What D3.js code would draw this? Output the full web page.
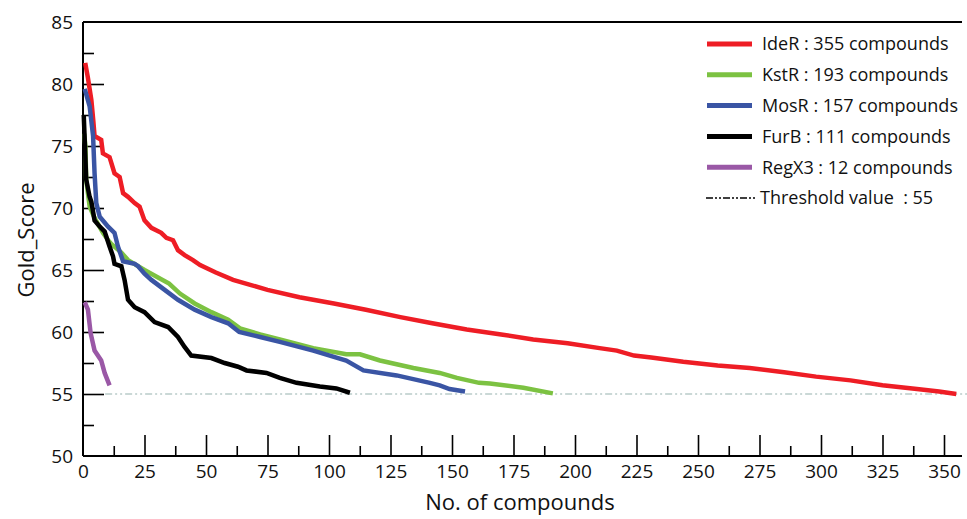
<!DOCTYPE html>
<html>
<head>
<meta charset="utf-8">
<script src="https://cdn.jsdelivr.net/npm/d3@7"></script>
<style>
  body { margin: 0; background: #fff; }
  svg { display: block; font-family: "Open Sans", sans-serif; }
</style>
</head>
<body>
<svg id="chart" width="967" height="519"></svg>
<script>
// ---- Data ----
const ideR_rank  = [0.9,2,3.4,4.2,4.7,7.4,8.1,10.8,12.8,14.9,16.3,18.3,21,23,25,27.8,31.8,33.9,36.6,38.6,41.3,44.7,47.6,54,61,68,75,88,102,115,129,142,156,170,183,197,210,217,224,231,244,258,271,285,298,312,325,339,348,355];
const ideR_score = [81.7,80.5,78.7,77,75.8,75.5,74.4,74.1,72.8,72.5,71.2,70.9,70.4,70.1,69.0,68.4,68.0,67.6,67.4,66.6,66.2,65.8,65.4,64.8,64.2,63.8,63.4,62.8,62.3,61.8,61.2,60.7,60.2,59.8,59.4,59.1,58.7,58.5,58.1,57.95,57.6,57.3,57.1,56.75,56.4,56.1,55.7,55.4,55.2,55.0];

const kstR_rank  = [0.5,1,1.3,2.7,4.7,8.1,10.2,11.5,15.6,18.3,25,30.5,35,39.4,45.4,52.2,59,63.8,72,80,93.6,107,112.6,120.7,134.3,145,152,161,165.4,179,191];
const kstR_score = [76,74.9,72.3,70.1,69.2,68.0,67.4,67.1,66.4,65.8,65.0,64.4,63.9,63.1,62.3,61.6,61.0,60.3,59.8,59.4,58.7,58.2,58.2,57.7,57.1,56.7,56.3,55.9,55.85,55.5,55.05];

const mosR_rank  = [0.7,2.7,4.1,4.7,5.4,6.8,10.2,12.8,14.2,16.3,21,22.4,25,27.8,33.2,38.6,45.4,52.2,59,63.5,72,80,93.6,107,114,127.5,141,145,149,155.3];
const mosR_score = [79.6,78.2,75.8,72.8,70.4,69.3,68.5,68.0,66.9,65.7,65.5,65.3,64.7,64.2,63.4,62.6,61.8,61.2,60.7,60.0,59.6,59.2,58.5,57.7,56.9,56.5,55.9,55.7,55.4,55.2];

const furB_rank  = [0.3,0.8,1.3,2.7,3.4,4.7,6.8,8.8,10.8,12.2,12.8,15.6,16.9,18.3,21,25,29.1,34.6,38.6,41.3,44,52.2,57.6,63,66.5,74.6,80,86.8,96.3,103,108.5];
const furB_score = [77.5,75,72.3,70.9,70.5,69.0,68.5,68.1,66.9,66.1,65.5,65.3,64.2,62.6,62.0,61.6,60.8,60.4,59.6,58.8,58.1,57.9,57.5,57.2,56.9,56.7,56.3,55.9,55.6,55.45,55.1];

const regX3_rank  = [0.7,2,3.1,4.7,7.4,8.8,10.8];
const regX3_score = [62.4,61.8,59.9,58.5,57.7,56.7,55.7];

const seriesNames  = ["IdeR","KstR","MosR","FurB","RegX3"];
const seriesCounts = [355,193,157,111,12];
const seriesColors = ["#ee1d25","#7cc242","#3a55a4","#000000","#9a58a6"];
const thresholdValue = 55;

const xTickValues = [0,25,50,75,100,125,150,175,200,225,250,275,300,325,350];
const yTickValues = [50,55,60,65,70,75,80,85];

// ---- Build series ----
const ranks  = [ideR_rank, kstR_rank, mosR_rank, furB_rank, regX3_rank];
const scores = [ideR_score, kstR_score, mosR_score, furB_score, regX3_score];
const series = seriesNames.map((n, i) => ({
  name: n, count: seriesCounts[i], color: seriesColors[i],
  points: ranks[i].map((r, j) => ({x: r, y: scores[i][j]}))
}));

// ---- Layout ----
const svg = d3.select("#chart");
const x = d3.scaleLinear().domain([0, 350]).range([83, 944]);
const y = d3.scaleLinear().domain([50, 85]).range([456, 22]);
const rightEdge = 962;

// minor ticks
const xMinor = d3.range(12.5, 350, 25);
const yMinor = d3.range(52.5, 85, 5);

const gx = svg.append("g").attr("transform", "translate(0,456)");
gx.call(d3.axisBottom(x).tickValues(xTickValues).tickSizeInner(-21).tickSizeOuter(0).tickPadding(9).tickFormat(d3.format("d")));
gx.select(".domain").remove();
gx.selectAll(".tick line").attr("stroke", "#000").attr("stroke-width", 1.6);
gx.selectAll(".tick text").attr("font-size", 19).attr("fill", "#111").attr("font-family", "Open Sans, sans-serif");
gx.selectAll(".tick").filter(d => d === 0).select("line").remove();

const gxm = svg.append("g").attr("transform", "translate(0,456)");
gxm.call(d3.axisBottom(x).tickValues(xMinor).tickSizeInner(-10).tickSizeOuter(0).tickFormat(""));
gxm.select(".domain").remove();
gxm.selectAll(".tick line").attr("stroke", "#000").attr("stroke-width", 1.6);

const gy = svg.append("g").attr("transform", "translate(83,0)");
gy.call(d3.axisLeft(y).tickValues(yTickValues).tickSizeInner(-21).tickSizeOuter(0).tickPadding(10).tickFormat(d3.format("d")));
gy.select(".domain").remove();
gy.selectAll(".tick line").attr("stroke", "#000").attr("stroke-width", 1.6);
gy.selectAll(".tick text").attr("font-size", 19).attr("fill", "#111").attr("font-family", "Open Sans, sans-serif");
gy.selectAll(".tick").filter(d => d === 85 || d === 50).select("line").remove();

const gym = svg.append("g").attr("transform", "translate(83,0)");
gym.call(d3.axisLeft(y).tickValues(yMinor).tickSizeInner(-11).tickSizeOuter(0).tickFormat(""));
gym.select(".domain").remove();
gym.selectAll(".tick line").attr("stroke", "#000").attr("stroke-width", 1.6);

// frame lines
svg.append("line").attr("x1", x(0)).attr("x2", rightEdge).attr("y1", y(85)).attr("y2", y(85))
  .attr("stroke", "#000").attr("stroke-width", 2);
svg.append("line").attr("x1", x(0)).attr("x2", rightEdge).attr("y1", y(50)).attr("y2", y(50))
  .attr("stroke", "#000").attr("stroke-width", 2);
svg.append("line").attr("x1", x(0)).attr("x2", x(0)).attr("y1", y(85)).attr("y2", y(50))
  .attr("stroke", "#000").attr("stroke-width", 2);

// threshold
svg.append("line").attr("x1", x(9)).attr("x2", 967).attr("y1", y(thresholdValue)).attr("y2", y(thresholdValue))
  .attr("stroke", "#b9cbc9").attr("stroke-width", 1.3).attr("stroke-dasharray", "7,3,2,3,2,3");

// series lines
const line = d3.line().x(d => x(d.x)).y(d => y(d.y)).curve(d3.curveLinear);
svg.append("g").selectAll("path").data(series).join("path")
  .attr("d", d => line(d.points))
  .attr("fill", "none")
  .attr("stroke", d => d.color)
  .attr("stroke-width", 4.5)
  .attr("stroke-linejoin", "miter")
  .attr("stroke-linecap", "butt");

// legend
const lg = svg.append("g");
const legendY0 = 44, legendDy = 30.8;
series.forEach((s, i) => {
  const yy = legendY0 + i * legendDy;
  lg.append("line").attr("x1", 707).attr("x2", 752).attr("y1", yy).attr("y2", yy)
    .attr("stroke", s.color).attr("stroke-width", 5);
  lg.append("text").attr("x", 762).attr("y", yy).attr("dy", "0.35em")
    .attr("font-size", 18).attr("fill", "#111")
    .text(`${s.name} : ${s.count} compounds`);
});
{
  const yy = legendY0 + 5 * legendDy;
  lg.append("line").attr("x1", 706).attr("x2", 755).attr("y1", yy).attr("y2", yy)
    .attr("stroke", "#000").attr("stroke-width", 1.4).attr("stroke-dasharray", "7,2,2,2,2,2");
  lg.append("text").attr("x", 760).attr("y", yy).attr("dy", "0.35em")
    .attr("font-size", 18).attr("fill", "#111")
    .text(`Threshold value\u00A0\u00A0: ${thresholdValue}`);
}

// axis titles
svg.append("text").attr("transform", "translate(34,240) rotate(-90)")
  .attr("text-anchor", "middle").attr("font-size", 22).attr("fill", "#111").text("Gold_Score");
svg.append("text").attr("x", 520).attr("y", 510)
  .attr("text-anchor", "middle").attr("font-size", 22).attr("fill", "#111").text("No. of compounds");
</script>
</body>
</html>
